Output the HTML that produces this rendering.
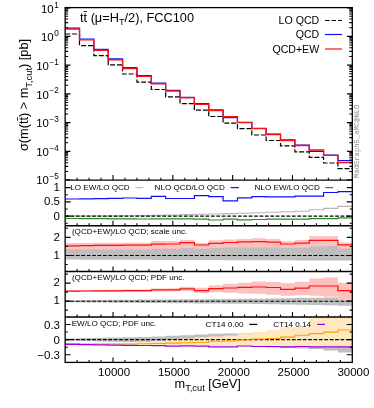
<!DOCTYPE html>
<html><head><meta charset="utf-8"><title>plot</title>
<style>html,body{margin:0;padding:0;background:#fff;}body{width:374px;height:408px;overflow:hidden;font-family:"Liberation Sans",sans-serif;}</style></head>
<body>
<svg width="374" height="408" viewBox="0 0 374 408" style="display:block;will-change:transform">
<rect width="374" height="408" fill="#fff"/>
<defs>
<clipPath id="c0"><rect x="65.15" y="7.60" width="287.15" height="172.50"/></clipPath>
<clipPath id="c1"><rect x="65.15" y="180.10" width="287.15" height="45.65"/></clipPath>
<clipPath id="c2"><rect x="65.15" y="225.75" width="287.15" height="45.75"/></clipPath>
<clipPath id="c3"><rect x="65.15" y="271.50" width="287.15" height="45.50"/></clipPath>
<clipPath id="c4"><rect x="65.15" y="317.00" width="287.15" height="45.40"/></clipPath>
</defs>
<g clip-path="url(#c0)" fill="none" stroke-width="1.20">
<path d="M65.15 34.00H79.51V45.60H93.87V55.60H108.22V64.90H122.58V74.00H136.94V82.20H151.29V89.50H165.65V96.80H180.01V103.60H194.37V110.20H208.72V116.50H223.08V123.20H237.44V128.70H251.80V135.00H266.15V140.50H280.51V145.90H294.87V151.90H309.23V157.30H323.58V163.00H337.94V168.60H352.30" stroke="#000" stroke-dasharray="5 1.9"/>
<path d="M65.15 28.20H79.51V39.00H93.87V49.40H108.22V58.90H122.58V67.70H136.94V75.60H151.29V83.10H165.65V90.30H180.01V97.30H194.37V103.50H208.72V109.80H223.08V117.60H237.44V122.30H251.80V128.30H266.15V134.20H280.51V139.80H294.87V145.20H309.23V151.40H323.58V155.20H337.94V160.60H352.30" stroke="#1010ff" stroke-width="1.2"/>
<path d="M65.15 29.00H79.51V39.80H93.87V50.20H108.22V59.70H122.58V68.50H136.94V76.40H151.29V83.90H165.65V91.00H180.01V97.70H194.37V104.40H208.72V110.50H223.08V116.70H237.44V122.60H251.80V128.60H266.15V134.50H280.51V140.50H294.87V145.50H309.23V150.00H323.58V155.40H337.94V162.60H352.30" stroke="#ff1010" stroke-width="1.35"/>
</g>
<g clip-path="url(#c1)" fill="none" stroke-width="1.20">
<path d="M65.15 216.00H79.51V216.00H93.87V216.00H108.22V215.90H122.58V215.80H136.94V215.60H151.29V215.30H165.65V215.00H180.01V214.60H194.37V214.30H208.72V214.00H223.08V213.60H237.44V213.20H251.80V212.70H266.15V212.20H280.51V211.80H294.87V211.20H309.23V209.70H323.58V208.40H337.94V206.40H352.30" stroke="#b4b4b4" stroke-width="1.1"/>
<path d="M65.15 216.1H352.30" stroke="#000" stroke-width="1.1" stroke-dasharray="3.7 1.7"/>
<path d="M65.15 199.00H79.51V198.80H93.87V198.60H108.22V198.40H122.58V198.00H136.94V198.30H151.29V196.40H165.65V198.50H180.01V198.50H194.37V195.60H208.72V196.70H223.08V200.90H237.44V197.90H251.80V196.60H266.15V196.80H280.51V196.80H294.87V196.20H309.23V196.20H323.58V192.50H337.94V191.70H352.30" stroke="#1010ff"/>
<path d="M65.15 218.50H79.51V218.60H93.87V218.70H108.22V218.80H122.58V218.90H136.94V219.00H151.29V218.80H165.65V218.80H180.01V218.80H194.37V219.10H208.72V220.00H223.08V219.10H237.44V219.80H251.80V219.50H266.15V219.20H280.51V219.10H294.87V219.10H309.23V218.70H323.58V218.70H337.94V217.80H352.30" stroke="#228b22" stroke-width="1.2"/>
</g>
<g clip-path="url(#c2)" fill="none" stroke-width="1.20">
<path d="M65.15 246.00H79.51V246.00H93.87V246.00H108.22V246.00H122.58V246.00H136.94V246.00H151.29V246.00H165.65V246.00H180.01V246.00H194.37V246.00H208.72V246.00H223.08V246.00H237.44V246.00H251.80V246.00H266.15V246.00H280.51V246.00H294.87V246.00H309.23V246.00H323.58V246.00H337.94V246.00H352.30V260.55H337.94V260.50H323.58V260.45H309.23V260.40H294.87V260.35H280.51V260.30H266.15V260.25H251.80V260.20H237.44V260.15H223.08V260.10H208.72V260.05H194.37V260.00H180.01V259.95H165.65V259.90H151.29V259.85H136.94V259.80H122.58V259.75H108.22V259.70H93.87V259.65H79.51V259.60H65.15Z" fill="#bebebe"/>
<path d="M65.15 243.00H79.51V242.90H93.87V242.80H108.22V242.70H122.58V242.70H136.94V242.70H151.29V241.00H165.65V241.00H180.01V239.90H194.37V243.00H208.72V240.30H223.08V239.50H237.44V239.00H251.80V238.30H266.15V238.90H280.51V241.20H294.87V240.00H309.23V236.00H323.58V236.00H337.94V242.50H352.30V248.40H337.94V246.10H323.58V246.50H309.23V247.70H294.87V248.00H280.51V247.60H266.15V247.30H251.80V247.60H237.44V247.40H223.08V248.00H208.72V248.70H194.37V247.90H180.01V248.80H165.65V248.80H151.29V249.40H136.94V249.40H122.58V249.40H108.22V249.40H93.87V249.50H79.51V249.50H65.15Z" fill="#ffc0c0"/>
<path d="M65.15 255.5H352.30" stroke="#000" stroke-width="1.1" stroke-dasharray="3.7 1.7"/>
<path d="M65.15 245.80H79.51V245.60H93.87V245.40H108.22V245.30H122.58V245.20H136.94V245.10H151.29V244.10H165.65V244.00H180.01V242.70H194.37V245.00H208.72V243.30H223.08V242.50H237.44V241.90H251.80V241.70H266.15V242.10H280.51V244.00H294.87V243.20H309.23V240.40H323.58V240.40H337.94V244.90H352.30" stroke="#ff1010"/>
</g>
<g clip-path="url(#c3)" fill="none" stroke-width="1.20">
<path d="M65.15 300.19H79.51V300.08H93.87V299.96H108.22V299.85H122.58V299.74H136.94V299.62H151.29V299.50H165.65V299.39H180.01V299.27H194.37V299.16H208.72V299.05H223.08V298.93H237.44V298.81H251.80V298.70H266.15V298.47H280.51V298.24H294.87V298.01H309.23V297.78H323.58V297.55H337.94V297.09H352.30V305.82H337.94V305.30H323.58V305.04H309.23V304.78H294.87V304.52H280.51V304.26H266.15V304.00H251.80V303.87H237.44V303.74H223.08V303.61H208.72V303.48H194.37V303.35H180.01V303.22H165.65V303.09H151.29V302.96H136.94V302.83H122.58V302.70H108.22V302.57H93.87V302.44H79.51V302.31H65.15Z" fill="#bebebe"/>
<path d="M65.15 290.30H79.51V290.10H93.87V289.90H108.22V289.70H122.58V289.50H136.94V289.40H151.29V288.40H165.65V288.20H180.01V286.80H194.37V287.80H208.72V285.30H223.08V283.80H237.44V282.70H251.80V281.60H266.15V281.90H280.51V283.30H294.87V281.80H309.23V278.60H323.58V277.50H337.94V282.80H352.30V300.00H337.94V296.70H323.58V295.70H309.23V295.20H294.87V295.70H280.51V294.70H266.15V293.80H251.80V293.40H237.44V292.70H223.08V292.30H208.72V293.00H194.37V290.80H180.01V291.60H165.65V291.40H151.29V292.00H136.94V291.90H122.58V291.90H108.22V291.90H93.87V291.90H79.51V291.90H65.15Z" fill="#ffc0c0"/>
<path d="M65.15 301.2H352.30" stroke="#000" stroke-width="1.1" stroke-dasharray="3.7 1.7"/>
<path d="M65.15 291.10H79.51V291.00H93.87V290.90H108.22V290.80H122.58V290.70H136.94V290.70H151.29V289.90H165.65V289.90H180.01V288.80H194.37V290.70H208.72V288.70H223.08V288.00H237.44V287.40H251.80V287.00H266.15V287.50H280.51V289.30H294.87V288.20H309.23V286.00H323.58V286.00H337.94V290.70H352.30" stroke="#ff1010"/>
</g>
<g clip-path="url(#c4)" fill="none" stroke-width="1.20">
<path d="M65.15 338.40H79.51V338.10H93.87V337.80H108.22V337.50H122.58V337.20H136.94V336.90H151.29V336.40H165.65V335.80H180.01V335.20H194.37V334.50H208.72V333.80H223.08V333.60H237.44V333.00H251.80V332.40H266.15V331.80H280.51V331.20H294.87V330.70H309.23V330.30H323.58V328.70H337.94V326.60H352.30V352.60H337.94V350.50H323.58V348.90H309.23V348.50H294.87V348.00H280.51V347.40H266.15V346.80H251.80V346.20H237.44V345.60H223.08V345.40H208.72V344.70H194.37V344.00H180.01V343.40H165.65V342.80H151.29V342.30H136.94V342.00H122.58V341.70H108.22V341.40H93.87V341.10H79.51V340.80H65.15Z" fill="#bebebe"/>
<path d="M65.15 343.50H79.51V343.50H93.87V343.40H108.22V343.20H122.58V342.60H136.94V341.80H151.29V340.70H165.65V339.70H180.01V338.50H194.37V337.20H208.72V336.40H223.08V335.60H237.44V333.20H251.80V332.00H266.15V330.10H280.51V327.00H294.87V327.00H309.23V317.00H323.58V317.00H337.94V317.00H352.30V347.20H337.94V347.20H323.58V347.00H309.23V346.80H294.87V346.80H280.51V346.60H266.15V346.50H251.80V346.30H237.44V346.00H223.08V346.20H208.72V345.20H194.37V345.20H180.01V345.40H165.65V345.20H151.29V345.00H136.94V344.80H122.58V344.60H108.22V344.40H93.87V344.20H79.51V344.00H65.15Z" fill="#ffe8bf"/>
<path d="M65.15 339.60H352.30" stroke="#000" stroke-width="1.1" stroke-dasharray="3.7 1.7"/>
<path d="M65.15 343.80H79.51V343.90H93.87V344.00H108.22V344.00H122.58V343.90H136.94V343.70H151.29V343.40H165.65V343.10H180.01V342.80H194.37V342.50H208.72V341.30H223.08V340.90H237.44V340.00H251.80V338.90H266.15V338.40H280.51V337.10H294.87V335.30H309.23V333.60H323.58V332.10H337.94V330.00H352.30" stroke="#ffa000" stroke-width="1.05"/>
<path d="M65.15 344.30H79.51V344.60H93.87V344.90H108.22V345.10H122.58V345.30H136.94V345.50H151.29V345.70H165.65V346.10H180.01V345.80H194.37V346.10H208.72V346.90H223.08V346.90H237.44V346.00H251.80V346.50H266.15V346.50H280.51V346.80H294.87V346.50H309.23V346.80H323.58V346.80H337.94V346.80H352.30" stroke="#a000e0"/>
</g>
<g stroke="#000" stroke-width="1.3" fill="none">
<rect x="65.15" y="7.60" width="287.15" height="354.80"/>
<path d="M65.15 180.10H352.30"/>
<path d="M65.15 225.75H352.30"/>
<path d="M65.15 271.50H352.30"/>
<path d="M65.15 317.00H352.30"/>
</g>
<g stroke="#000" stroke-width="1.1" fill="none">
<path d="M65.15 7.90h5.3M352.30 7.90h-5.3"/>
<path d="M65.15 27.70h3.0M352.30 27.70h-3.0"/>
<path d="M65.15 22.63h3.0M352.30 22.63h-3.0"/>
<path d="M65.15 19.04h3.0M352.30 19.04h-3.0"/>
<path d="M65.15 16.25h3.0M352.30 16.25h-3.0"/>
<path d="M65.15 13.98h3.0M352.30 13.98h-3.0"/>
<path d="M65.15 12.05h3.0M352.30 12.05h-3.0"/>
<path d="M65.15 10.39h3.0M352.30 10.39h-3.0"/>
<path d="M65.15 8.92h3.0M352.30 8.92h-3.0"/>
<path d="M65.15 36.35h5.3M352.30 36.35h-5.3"/>
<path d="M65.15 56.45h3.0M352.30 56.45h-3.0"/>
<path d="M65.15 51.38h3.0M352.30 51.38h-3.0"/>
<path d="M65.15 47.79h3.0M352.30 47.79h-3.0"/>
<path d="M65.15 45.00h3.0M352.30 45.00h-3.0"/>
<path d="M65.15 42.73h3.0M352.30 42.73h-3.0"/>
<path d="M65.15 40.80h3.0M352.30 40.80h-3.0"/>
<path d="M65.15 39.14h3.0M352.30 39.14h-3.0"/>
<path d="M65.15 37.67h3.0M352.30 37.67h-3.0"/>
<path d="M65.15 65.10h5.3M352.30 65.10h-5.3"/>
<path d="M65.15 85.20h3.0M352.30 85.20h-3.0"/>
<path d="M65.15 80.13h3.0M352.30 80.13h-3.0"/>
<path d="M65.15 76.54h3.0M352.30 76.54h-3.0"/>
<path d="M65.15 73.75h3.0M352.30 73.75h-3.0"/>
<path d="M65.15 71.48h3.0M352.30 71.48h-3.0"/>
<path d="M65.15 69.55h3.0M352.30 69.55h-3.0"/>
<path d="M65.15 67.89h3.0M352.30 67.89h-3.0"/>
<path d="M65.15 66.42h3.0M352.30 66.42h-3.0"/>
<path d="M65.15 93.85h5.3M352.30 93.85h-5.3"/>
<path d="M65.15 113.95h3.0M352.30 113.95h-3.0"/>
<path d="M65.15 108.88h3.0M352.30 108.88h-3.0"/>
<path d="M65.15 105.29h3.0M352.30 105.29h-3.0"/>
<path d="M65.15 102.50h3.0M352.30 102.50h-3.0"/>
<path d="M65.15 100.23h3.0M352.30 100.23h-3.0"/>
<path d="M65.15 98.30h3.0M352.30 98.30h-3.0"/>
<path d="M65.15 96.64h3.0M352.30 96.64h-3.0"/>
<path d="M65.15 95.17h3.0M352.30 95.17h-3.0"/>
<path d="M65.15 122.60h5.3M352.30 122.60h-5.3"/>
<path d="M65.15 142.70h3.0M352.30 142.70h-3.0"/>
<path d="M65.15 137.63h3.0M352.30 137.63h-3.0"/>
<path d="M65.15 134.04h3.0M352.30 134.04h-3.0"/>
<path d="M65.15 131.25h3.0M352.30 131.25h-3.0"/>
<path d="M65.15 128.98h3.0M352.30 128.98h-3.0"/>
<path d="M65.15 127.05h3.0M352.30 127.05h-3.0"/>
<path d="M65.15 125.39h3.0M352.30 125.39h-3.0"/>
<path d="M65.15 123.92h3.0M352.30 123.92h-3.0"/>
<path d="M65.15 151.35h5.3M352.30 151.35h-5.3"/>
<path d="M65.15 171.45h3.0M352.30 171.45h-3.0"/>
<path d="M65.15 166.38h3.0M352.30 166.38h-3.0"/>
<path d="M65.15 162.79h3.0M352.30 162.79h-3.0"/>
<path d="M65.15 160.00h3.0M352.30 160.00h-3.0"/>
<path d="M65.15 157.73h3.0M352.30 157.73h-3.0"/>
<path d="M65.15 155.80h3.0M352.30 155.80h-3.0"/>
<path d="M65.15 154.14h3.0M352.30 154.14h-3.0"/>
<path d="M65.15 152.67h3.0M352.30 152.67h-3.0"/>
<path d="M65.15 179.70h5.3M352.30 179.70h-5.3"/>
<path d="M77.11 180.10v-2.4"/>
<path d="M89.08 180.10v-2.4"/>
<path d="M101.04 180.10v-2.4"/>
<path d="M113.01 180.10v-5.0"/>
<path d="M124.97 180.10v-2.4"/>
<path d="M136.94 180.10v-2.4"/>
<path d="M148.90 180.10v-2.4"/>
<path d="M160.87 180.10v-2.4"/>
<path d="M172.83 180.10v-5.0"/>
<path d="M184.80 180.10v-2.4"/>
<path d="M196.76 180.10v-2.4"/>
<path d="M208.72 180.10v-2.4"/>
<path d="M220.69 180.10v-2.4"/>
<path d="M232.65 180.10v-5.0"/>
<path d="M244.62 180.10v-2.4"/>
<path d="M256.58 180.10v-2.4"/>
<path d="M268.55 180.10v-2.4"/>
<path d="M280.51 180.10v-2.4"/>
<path d="M292.48 180.10v-5.0"/>
<path d="M304.44 180.10v-2.4"/>
<path d="M316.41 180.10v-2.4"/>
<path d="M328.37 180.10v-2.4"/>
<path d="M340.34 180.10v-2.4"/>
<path d="M77.11 225.75v-2.4"/>
<path d="M89.08 225.75v-2.4"/>
<path d="M101.04 225.75v-2.4"/>
<path d="M113.01 225.75v-5.0"/>
<path d="M124.97 225.75v-2.4"/>
<path d="M136.94 225.75v-2.4"/>
<path d="M148.90 225.75v-2.4"/>
<path d="M160.87 225.75v-2.4"/>
<path d="M172.83 225.75v-5.0"/>
<path d="M184.80 225.75v-2.4"/>
<path d="M196.76 225.75v-2.4"/>
<path d="M208.72 225.75v-2.4"/>
<path d="M220.69 225.75v-2.4"/>
<path d="M232.65 225.75v-5.0"/>
<path d="M244.62 225.75v-2.4"/>
<path d="M256.58 225.75v-2.4"/>
<path d="M268.55 225.75v-2.4"/>
<path d="M280.51 225.75v-2.4"/>
<path d="M292.48 225.75v-5.0"/>
<path d="M304.44 225.75v-2.4"/>
<path d="M316.41 225.75v-2.4"/>
<path d="M328.37 225.75v-2.4"/>
<path d="M340.34 225.75v-2.4"/>
<path d="M77.11 271.50v-2.4"/>
<path d="M89.08 271.50v-2.4"/>
<path d="M101.04 271.50v-2.4"/>
<path d="M113.01 271.50v-5.0"/>
<path d="M124.97 271.50v-2.4"/>
<path d="M136.94 271.50v-2.4"/>
<path d="M148.90 271.50v-2.4"/>
<path d="M160.87 271.50v-2.4"/>
<path d="M172.83 271.50v-5.0"/>
<path d="M184.80 271.50v-2.4"/>
<path d="M196.76 271.50v-2.4"/>
<path d="M208.72 271.50v-2.4"/>
<path d="M220.69 271.50v-2.4"/>
<path d="M232.65 271.50v-5.0"/>
<path d="M244.62 271.50v-2.4"/>
<path d="M256.58 271.50v-2.4"/>
<path d="M268.55 271.50v-2.4"/>
<path d="M280.51 271.50v-2.4"/>
<path d="M292.48 271.50v-5.0"/>
<path d="M304.44 271.50v-2.4"/>
<path d="M316.41 271.50v-2.4"/>
<path d="M328.37 271.50v-2.4"/>
<path d="M340.34 271.50v-2.4"/>
<path d="M77.11 317.00v-2.4"/>
<path d="M89.08 317.00v-2.4"/>
<path d="M101.04 317.00v-2.4"/>
<path d="M113.01 317.00v-5.0"/>
<path d="M124.97 317.00v-2.4"/>
<path d="M136.94 317.00v-2.4"/>
<path d="M148.90 317.00v-2.4"/>
<path d="M160.87 317.00v-2.4"/>
<path d="M172.83 317.00v-5.0"/>
<path d="M184.80 317.00v-2.4"/>
<path d="M196.76 317.00v-2.4"/>
<path d="M208.72 317.00v-2.4"/>
<path d="M220.69 317.00v-2.4"/>
<path d="M232.65 317.00v-5.0"/>
<path d="M244.62 317.00v-2.4"/>
<path d="M256.58 317.00v-2.4"/>
<path d="M268.55 317.00v-2.4"/>
<path d="M280.51 317.00v-2.4"/>
<path d="M292.48 317.00v-5.0"/>
<path d="M304.44 317.00v-2.4"/>
<path d="M316.41 317.00v-2.4"/>
<path d="M328.37 317.00v-2.4"/>
<path d="M340.34 317.00v-2.4"/>
<path d="M77.11 362.40v-2.4"/>
<path d="M89.08 362.40v-2.4"/>
<path d="M101.04 362.40v-2.4"/>
<path d="M113.01 362.40v-5.0"/>
<path d="M124.97 362.40v-2.4"/>
<path d="M136.94 362.40v-2.4"/>
<path d="M148.90 362.40v-2.4"/>
<path d="M160.87 362.40v-2.4"/>
<path d="M172.83 362.40v-5.0"/>
<path d="M184.80 362.40v-2.4"/>
<path d="M196.76 362.40v-2.4"/>
<path d="M208.72 362.40v-2.4"/>
<path d="M220.69 362.40v-2.4"/>
<path d="M232.65 362.40v-5.0"/>
<path d="M244.62 362.40v-2.4"/>
<path d="M256.58 362.40v-2.4"/>
<path d="M268.55 362.40v-2.4"/>
<path d="M280.51 362.40v-2.4"/>
<path d="M292.48 362.40v-5.0"/>
<path d="M304.44 362.40v-2.4"/>
<path d="M316.41 362.40v-2.4"/>
<path d="M328.37 362.40v-2.4"/>
<path d="M340.34 362.40v-2.4"/>
<path d="M65.15 187.60h5.5M352.30 187.60h-5.5"/>
<path d="M65.15 194.72h2.6M352.30 194.72h-2.6"/>
<path d="M65.15 201.85h5.5M352.30 201.85h-5.5"/>
<path d="M65.15 208.97h2.6M352.30 208.97h-2.6"/>
<path d="M65.15 216.10h5.5M352.30 216.10h-5.5"/>
<path d="M65.15 223.22h2.6M352.30 223.22h-2.6"/>
<path d="M65.15 228.28h2.6M352.30 228.28h-2.6"/>
<path d="M65.15 237.35h5.5M352.30 237.35h-5.5"/>
<path d="M65.15 246.43h2.6M352.30 246.43h-2.6"/>
<path d="M65.15 255.50h5.5M352.30 255.50h-5.5"/>
<path d="M65.15 264.57h2.6M352.30 264.57h-2.6"/>
<path d="M65.15 274.10h2.6M352.30 274.10h-2.6"/>
<path d="M65.15 283.10h5.5M352.30 283.10h-5.5"/>
<path d="M65.15 292.10h2.6M352.30 292.10h-2.6"/>
<path d="M65.15 301.10h5.5M352.30 301.10h-5.5"/>
<path d="M65.15 310.10h2.6M352.30 310.10h-2.6"/>
<path d="M65.15 324.45h5.5M352.30 324.45h-5.5"/>
<path d="M65.15 332.03h2.6M352.30 332.03h-2.6"/>
<path d="M65.15 339.60h5.5M352.30 339.60h-5.5"/>
<path d="M65.15 347.18h2.6M352.30 347.18h-2.6"/>
<path d="M65.15 354.75h5.5M352.30 354.75h-5.5"/>
</g>
<g font-family="Liberation Sans, sans-serif" fill="#000">
<text x="80" y="21.8" font-size="12.75">tt&#772; (&#956;=H<tspan dy="3.0" font-size="9.3">T</tspan><tspan dy="-3.0">/2), FCC100</tspan></text>
<text x="319.2" y="23.9" font-size="10.6" text-anchor="end">LO QCD</text>
<text x="319.2" y="38.4" font-size="10.6" text-anchor="end">QCD</text>
<text x="319.2" y="52.8" font-size="10.6" text-anchor="end">QCD+EW</text>
<text x="58.8" y="13.4" font-size="11.4" text-anchor="end">10<tspan dy="-5.2" dx="0.6" font-size="8.2">1</tspan></text>
<text x="58.8" y="41.1" font-size="11.4" text-anchor="end">10<tspan dy="-5.2" dx="0.6" font-size="8.2">0</tspan></text>
<text x="58.8" y="69.8" font-size="11.4" text-anchor="end">10<tspan dy="-5.2" dx="0.6" font-size="8.2">&#8722;1</tspan></text>
<text x="58.8" y="98.5" font-size="11.4" text-anchor="end">10<tspan dy="-5.2" dx="0.6" font-size="8.2">&#8722;2</tspan></text>
<text x="58.8" y="127.3" font-size="11.4" text-anchor="end">10<tspan dy="-5.2" dx="0.6" font-size="8.2">&#8722;3</tspan></text>
<text x="58.8" y="156.0" font-size="11.4" text-anchor="end">10<tspan dy="-5.2" dx="0.6" font-size="8.2">&#8722;4</tspan></text>
<text x="58.8" y="184.1" font-size="11.4" text-anchor="end">10<tspan dy="-5.2" dx="0.6" font-size="8.2">&#8722;5</tspan></text>
<text x="60" y="191.2" font-size="11.5" text-anchor="end">1</text>
<text x="60" y="205.4" font-size="11.5" text-anchor="end">0.5</text>
<text x="60" y="219.7" font-size="11.5" text-anchor="end">0</text>
<text x="60" y="241.0" font-size="11.5" text-anchor="end">2</text>
<text x="60" y="259.1" font-size="11.5" text-anchor="end">1</text>
<text x="60" y="286.1" font-size="11.5" text-anchor="end">2</text>
<text x="60" y="304.2" font-size="11.5" text-anchor="end">1</text>
<text x="60" y="328.6" font-size="11.5" text-anchor="end">0.3</text>
<text x="60" y="343.8" font-size="11.5" text-anchor="end">0</text>
<text x="60" y="359.2" font-size="11.5" text-anchor="end">&#8722;0.3</text>
<text x="114.1" y="375.7" font-size="11.5" text-anchor="middle">10000</text>
<text x="173.9" y="375.7" font-size="11.5" text-anchor="middle">15000</text>
<text x="233.8" y="375.7" font-size="11.5" text-anchor="middle">20000</text>
<text x="293.6" y="375.7" font-size="11.5" text-anchor="middle">25000</text>
<text x="353.4" y="375.7" font-size="11.5" text-anchor="middle">30000</text>
<text x="174.5" y="387.6" font-size="12.75">m<tspan dy="3.8" font-size="9.3">T,cut</tspan><tspan dy="-3.8"> [GeV]</tspan></text>
<text transform="translate(27.8,151.1) rotate(-90)" font-size="12.75">&#963;(m(tt&#772;) &gt; m<tspan dy="4.2" font-size="9.3">T,cut</tspan><tspan dy="-4.2">) [pb]</tspan></text>
<text x="70.3" y="189.9" font-size="8.1">LO EW/LO QCD</text>
<text x="154.6" y="189.9" font-size="8.1">NLO QCD/LO QCD</text>
<text x="254.6" y="189.9" font-size="8.1">NLO EW/LO QCD</text>
<text x="71.9" y="234.4" font-size="8.1">(QCD+EW)/LO QCD; scale unc.</text>
<text x="71.9" y="279.8" font-size="8.1">(QCD+EW)/LO QCD; PDF unc.</text>
<text x="71.7" y="325.5" font-size="8.1">EW/LO QCD; PDF unc.</text>
<text x="205.6" y="326.8" font-size="8.1">CT14 0.00</text>
<text x="273.3" y="326.8" font-size="8.1">CT14 0.14</text>
</g>
<text transform="translate(359,178) rotate(-90)" font-family="Liberation Mono, monospace" font-size="7.2" fill="#8a8a8a">MadGraph5_aMC@NLO</text>
<g fill="none" stroke-width="1.2">
<path d="M325 20.5H342" stroke="#000" stroke-width="1.05" stroke-dasharray="4.6 1.9"/>
<path d="M325 34.5H342" stroke="#1010ff"/>
<path d="M325 49.0H342" stroke="#ff1010"/>
<path d="M135.3 187.6H143.3" stroke="#c0c0c0"/>
<path d="M230.6 187.6H238.9" stroke="#1010ff"/>
<path d="M325.3 187.6H333.2" stroke="#228b22"/>
<path d="M249.4 324.4H257.3" stroke="#000"/>
<path d="M317.1 324.4H325" stroke="#a000e0"/>
</g>
</svg>
</body></html>
